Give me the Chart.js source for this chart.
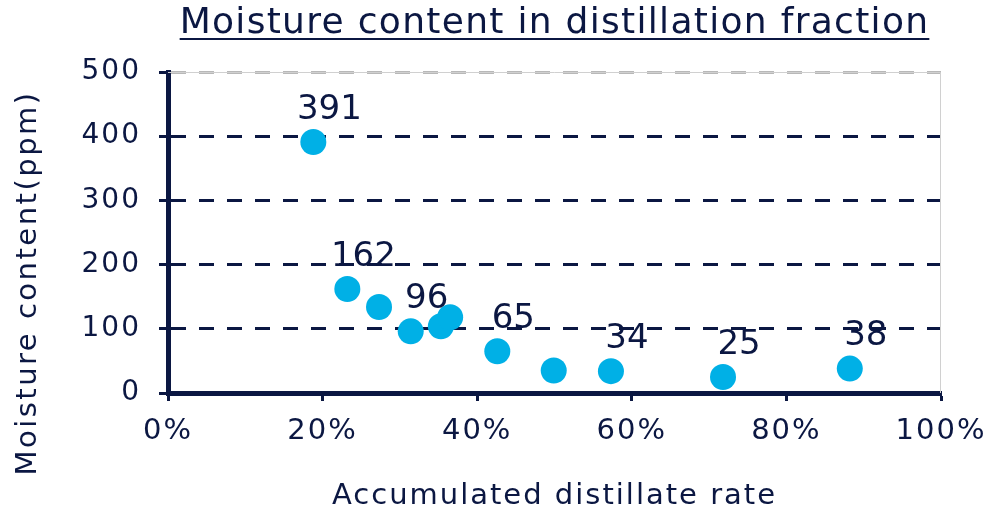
<!DOCTYPE html>
<html>
<head>
<meta charset="utf-8">
<script src="https://cdn.jsdelivr.net/npm/chart.js@4.4.1/dist/chart.umd.min.js"></script>
<style>
  html, body { margin: 0; padding: 0; background: #fff; }
</style>
</head>
<body>
<canvas id="chart" width="989" height="516"></canvas>
<script>
const chartTitle = "Moisture content in distillation fraction";
const xTitle = "Accumulated distillate rate";
const yTitle = "Moisture content(ppm)";

// accumulated distillate rate (%) and moisture (ppm)
const distillateRate = [18.8, 23.2, 27.3, 31.4, 35.3, 36.5, 42.6, 49.9, 57.3, 71.8, 88.2];
const moisturePpm = [391, 162, 134, 96, 104, 118, 65, 35, 34, 25, 38];
const showLabel = [true, true, false, true, false, false, true, false, true, true, true];

const navy = "#0b1742";
const blue = "#00b0e6";
const fontFamily = "'DejaVu Sans', sans-serif";

// the original font is wider than anything installed, so space the letters a bit
const spacingPlugin = {
  id: "spacing",
  beforeInit(chart) { chart.ctx.letterSpacing = "2px"; },
  beforeLayout(chart) { chart.ctx.letterSpacing = "2px"; },
  beforeDraw(chart) { chart.ctx.letterSpacing = "2px"; },
};

const titlePlugin = {
  id: "titles",
  afterDraw(chart) {
    const ctx = chart.ctx;
    const area = chart.chartArea;
    const cx = (area.left + area.right) / 2;
    ctx.save();
    ctx.letterSpacing = "1.3px";
    ctx.font = "36px " + fontFamily;
    ctx.fillStyle = navy;
    ctx.textAlign = "center";
    ctx.textBaseline = "alphabetic";
    ctx.fillText(chartTitle, cx, 33);
    const w = ctx.measureText(chartTitle).width;
    ctx.strokeStyle = navy;
    ctx.lineWidth = 2;
    ctx.beginPath();
    ctx.moveTo(cx - w / 2, 39);
    ctx.lineTo(cx + w / 2, 39);
    ctx.stroke();

    // y axis title, centred on the space under the title as in the original
    ctx.letterSpacing = "2.5px";
    ctx.font = "29px " + fontFamily;
    ctx.textBaseline = "middle";
    ctx.translate(28, 283);
    ctx.rotate(-Math.PI / 2);
    ctx.fillText(yTitle, 0, 0);
    ctx.restore();
  }
};

const framePlugin = {
  id: "frame",
  beforeDatasetsDraw(chart) {
    const ctx = chart.ctx;
    const a = chart.chartArea;
    ctx.save();
    ctx.strokeStyle = "#d0d0d0";
    ctx.lineWidth = 1;
    ctx.beginPath();
    ctx.moveTo(a.left, a.top + 0.5);
    ctx.lineTo(a.right - 0.5, a.top + 0.5);
    ctx.lineTo(a.right - 0.5, a.bottom);
    ctx.stroke();
    ctx.restore();
  }
};

const labelPlugin = {
  id: "pointLabels",
  afterDatasetsDraw(chart) {
    const ctx = chart.ctx;
    const meta = chart.getDatasetMeta(0);
    ctx.save();
    ctx.letterSpacing = "0px";
    ctx.font = "34px " + fontFamily;
    ctx.fillStyle = navy;
    ctx.textAlign = "center";
    ctx.textBaseline = "middle";
    meta.data.forEach((pt, i) => {
      if (!showLabel[i]) return;
      ctx.fillText(String(moisturePpm[i]), pt.x + 16, pt.y - 32);
    });
    ctx.restore();
  }
};

const ctx = document.getElementById("chart").getContext("2d");
new Chart(ctx, {
  type: "scatter",
  data: {
    datasets: [
      {
        data: distillateRate.map((x, i) => ({ x: x, y: moisturePpm[i] })),
        backgroundColor: blue,
        borderColor: blue,
        borderWidth: 0,
        pointRadius: 13,
        pointHoverRadius: 13,
      },
    ],
  },
  options: {
    responsive: false,
    animation: false,
    layout: { padding: { top: 72, left: 0, right: 48, bottom: 0 } },
    plugins: {
      legend: { display: false },
      tooltip: { enabled: false },
    },
    scales: {
      x: {
        type: "linear",
        min: 0,
        max: 100,
        afterFit: (s) => {
          s.height = 123;
          s.paddingLeft = 0;
          s.paddingRight = 0;
        },
        ticks: {
          stepSize: 20,
          color: navy,
          padding: 13,
          font: { family: fontFamily, size: 29 },
          callback: (v) => v + "%",
        },
        grid: {
          drawOnChartArea: false,
          drawTicks: true,
          tickLength: 8,
          tickWidth: 3,
          tickColor: navy,
        },
        border: { color: navy, width: 5 },
        title: {
          display: true,
          text: xTitle,
          color: navy,
          font: { family: fontFamily, size: 29 },
          padding: { top: 0, bottom: 2 },
        },
      },
      y: {
        min: 0,
        max: 500,
        afterFit: (s) => { s.width = 168; },
        ticks: {
          stepSize: 100,
          color: navy,
          padding: 18,
          font: { family: fontFamily, size: 28 },
        },
        grid: {
          color: (c) => (c.tick && c.tick.value === 500 ? "#b8b8b8" : navy),
          lineWidth: 3,
          tickLength: 9,
          tickWidth: 3,
          tickColor: navy,
        },
        border: { color: navy, width: 5, dash: [15, 13] },
      },
    },
  },
  plugins: [spacingPlugin, framePlugin, labelPlugin, titlePlugin],
});
</script>
</body>
</html>
